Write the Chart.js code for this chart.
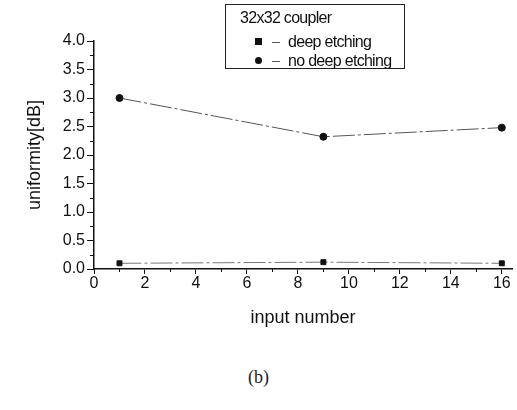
<!DOCTYPE html>
<html>
<head>
<meta charset="utf-8">
<script src="https://cdn.jsdelivr.net/npm/chart.js@4"></script>
<style>
  body { margin: 0; background: #fff; }
  #wrap { position: relative; width: 517px; height: 410px; }
  #plot { position: absolute; left: 0; top: 0; }
  #legendBox {
    position: absolute; left: 225px; top: 4px; width: 178px; height: 63px;
    border: 1px solid #222; background: #fff;
    font-family: 'Liberation Sans', Arial, sans-serif;
    font-size: 16px; color: #111; letter-spacing: -0.7px;
  }
  #legendBox .ttl { position: absolute; left: 14px; top: 4px; }
  #legendBox .row { position: absolute; left: 29px; height: 18px; line-height: 18px; }
  #legendBox .mk { position: absolute; left: 0; top: 5px; width: 7px; height: 7px; background: #111; }
  #legendBox .mk.round { border-radius: 50%; }
  #legendBox .dash { position: absolute; left: 17px; top: 9px; width: 8px; border-top: 1px solid #555; }
  #legendBox .txt { position: absolute; left: 33px; white-space: nowrap; }
  #caption {
    position: absolute; left: 0; width: 517px; top: 367px; text-align: center;
    font-family: 'Liberation Serif', 'DejaVu Serif', serif; font-size: 18px; color: #222;
  }
</style>
</head>
<body>
<div id="wrap">
  <canvas id="plot" width="517" height="345"></canvas>
  <div id="legendBox"></div>
  <div id="caption">(b)</div>
</div>
<script>
// input number vs. uniformity of the 32x32 coupler
const inputs = [1, 9, 16];
const deepEtching = [0.1, 0.12, 0.1];
const noDeepEtching = [3.0, 2.32, 2.48];
const seriesNames = ['deep etching', 'no deep etching'];
const legendTitle = '32x32 coupler';
const xTicks = [0, 2, 4, 6, 8, 10, 12, 14, 16];
const yTicks = [0, 0.5, 1, 1.5, 2, 2.5, 3, 3.5, 4];

const font = { family: "'Liberation Sans', Arial, sans-serif", size: 16 };
const titleFont = { family: "'Liberation Sans', Arial, sans-serif", size: 18 };

// short minor ticks between the labelled ones
const minorTicks = {
  id: 'minorTicks',
  afterDraw(chart) {
    const ctx = chart.ctx, xs = chart.scales.x, ys = chart.scales.y;
    ctx.save();
    ctx.strokeStyle = '#111';
    ctx.lineWidth = 1;
    ctx.beginPath();
    for (let v = 1; v < 16; v += 2) {
      const px = Math.round(xs.getPixelForValue(v)) + 0.5;
      ctx.moveTo(px, xs.top);
      ctx.lineTo(px, xs.top + 3);
    }
    for (let v = 0.25; v < 4; v += 0.5) {
      const py = Math.round(ys.getPixelForValue(v)) + 0.5;
      ctx.moveTo(ys.right, py);
      ctx.lineTo(ys.right - 4, py);
    }
    ctx.stroke();
    ctx.restore();
  }
};

const ctx = document.getElementById('plot').getContext('2d');
const chart = new Chart(ctx, {
  type: 'line',
  data: {
    datasets: [{
      label: seriesNames[0],
      data: inputs.map((x, i) => ({ x: x, y: deepEtching[i] })),
      borderColor: '#777',
      borderWidth: 1,
      borderDash: [22, 3, 3, 3],
      pointStyle: 'rect',
      pointRadius: 3.5,
      pointBackgroundColor: '#111',
      pointBorderColor: '#111'
    }, {
      label: seriesNames[1],
      data: inputs.map((x, i) => ({ x: x, y: noDeepEtching[i] })),
      borderColor: '#555',
      borderWidth: 1,
      borderDash: [22, 3, 3, 3],
      pointStyle: 'circle',
      pointRadius: 3.5,
      pointBackgroundColor: '#111',
      pointBorderColor: '#111'
    }]
  },
  options: {
    responsive: false,
    animation: false,
    layout: { padding: { left: 0, top: 41, right: 5, bottom: 0 } },
    plugins: { legend: { display: false }, tooltip: { enabled: false } },
    scales: {
      x: {
        type: 'linear',
        min: 0,
        max: 16.4,
        afterBuildTicks: s => { s.ticks = xTicks.map(v => ({ value: v })); },
        afterFit: s => { s.height = 345 - 269; },
        grid: { drawOnChartArea: false, drawTicks: true, tickLength: 5, color: '#111' },
        border: { display: true, color: '#111', width: 1.5 },
        ticks: { color: '#111', font: font, padding: 0, maxRotation: 0 },
        title: { display: true, text: 'input number', color: '#111', font: titleFont, padding: { top: 0, bottom: 16 } }
      },
      y: {
        min: 0,
        max: 4,
        afterBuildTicks: s => { s.ticks = yTicks.map(v => ({ value: v })); },
        afterFit: s => { s.width = 94; },
        grid: { drawOnChartArea: false, drawTicks: true, tickLength: 7, color: '#111' },
        border: { display: true, color: '#111', width: 1.5 },
        ticks: { color: '#111', font: font, padding: 2, callback: v => v.toFixed(1) },
        title: { display: true, text: 'uniformity[dB]', color: '#111', font: titleFont, padding: { top: 24, bottom: 0 } }
      }
    }
  },
  plugins: [minorTicks]
});

// legend box built from the datasets
const box = document.getElementById('legendBox');
box.innerHTML = '<div class="ttl">' + legendTitle + '</div>';
chart.data.datasets.forEach((ds, i) => {
  const row = document.createElement('div');
  row.className = 'row';
  row.style.top = (28 + i * 19) + 'px';
  row.innerHTML = '<div class="mk' + (ds.pointStyle === 'circle' ? ' round' : '') + '"></div>' +
    '<div class="dash"></div><div class="txt">' + ds.label + '</div>';
  box.appendChild(row);
});
</script>
</body>
</html>
